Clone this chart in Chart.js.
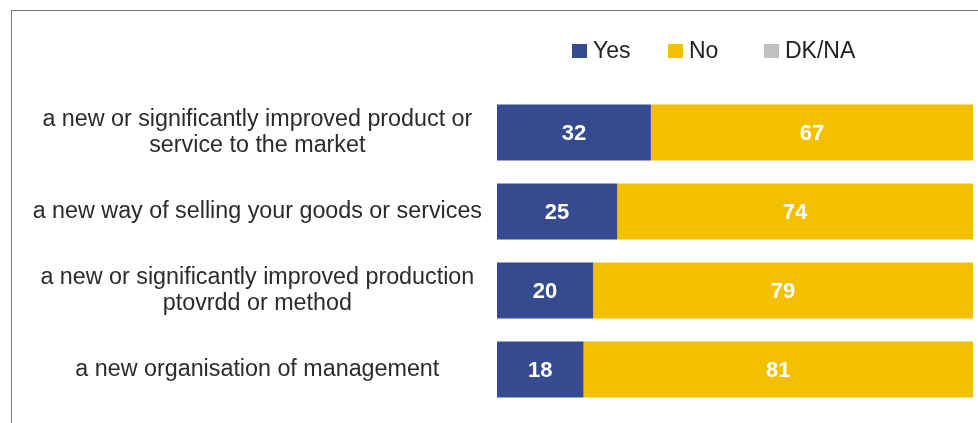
<!DOCTYPE html>
<html>
<head>
<meta charset="utf-8">
<script src="https://cdn.jsdelivr.net/npm/chart.js@4.4.1/dist/chart.umd.min.js"></script>
<style>
  html, body { margin: 0; padding: 0; background: #fff; }
  #wrap { position: relative; width: 978px; height: 423px; overflow: hidden; }
  /* grey frame line along the top and left edge */
  #frame { position: absolute; left: 11px; top: 10px; width: 1000px; height: 500px;
           border-top: 1px solid #7a7a7a; border-left: 1px solid #7a7a7a; }
  #chart { position: absolute; left: 0; top: 0; }
  #legend { position: absolute; left: 572px; top: 36px; margin: 0; padding: 0; list-style: none;
            display: flex; font: 23px "Liberation Sans", Arial, sans-serif; color: #222; line-height: 28px; }
  #legend li { width: 96px; display: flex; align-items: center; white-space: nowrap; }
  #legend .box { display: inline-block; width: 15px; height: 14px; margin: 2px 6px 0 0; }
</style>
</head>
<body>
<div id="wrap">
  <div id="frame"></div>
  <canvas id="chart" width="978" height="423"></canvas>
  <ul id="legend"></ul>
</div>
<script>
// Innovation types (y axis)
const categories = [
    ['a new or significantly improved product or', 'service to the market'],
    'a new way of selling your goods or services',
    ['a new or significantly improved production', 'ptovrdd or method'],
    'a new organisation of management'
];

// Shares in %
const yesValues = [32, 25, 20, 18];
const noValues = [67, 74, 79, 81];
const dkNaValues = [0, 0, 0, 0];

const FONT = '"Liberation Sans", Arial, sans-serif';

// white numbers in the middle of each segment
const valueLabels = {
    id: 'valueLabels',
    afterDatasetsDraw(chart) {
        const ctx = chart.ctx;
        ctx.save();
        ctx.font = 'bold 22px ' + FONT;
        ctx.fillStyle = '#ffffff';
        ctx.textAlign = 'center';
        ctx.textBaseline = 'middle';
        chart.data.datasets.forEach((ds, i) => {
            if (!ds.showValues) return;
            chart.getDatasetMeta(i).data.forEach((bar, j) => {
                const v = ds.data[j];
                if (!v) return;
                const c = bar.getCenterPoint();
                ctx.fillText(v, c.x, c.y + 1);
            });
        });
        ctx.restore();
    }
};

// legend built as html list so it can sit over the bars
const htmlLegend = {
    id: 'htmlLegend',
    afterUpdate(chart) {
        const list = document.getElementById('legend');
        list.innerHTML = '';
        const items = Chart.defaults.plugins.legend.labels.generateLabels(chart);
        items.forEach(item => {
            const li = document.createElement('li');
            const box = document.createElement('span');
            box.className = 'box';
            box.style.background = item.fillStyle;
            const txt = document.createElement('span');
            txt.textContent = item.text;
            li.append(box, txt);
            list.appendChild(li);
        });
    }
};

const ctx = document.getElementById('chart').getContext('2d');
const chart = new Chart(ctx, {
    type: 'bar',
    data: {
        labels: categories,
        datasets: [
            { label: 'Yes', data: yesValues, backgroundColor: '#364b8f', showValues: true },
            { label: 'No', data: noValues, backgroundColor: '#f3c000', showValues: true },
            { label: 'DK/NA', data: dkNaValues, backgroundColor: '#c0c0c0', showValues: false }
        ]
    },
    options: {
        indexAxis: 'y',
        responsive: false,
        animation: false,
        layout: {
            padding: { left: 0, right: 5, top: 93, bottom: 14 }
        },
        datasets: {
            bar: { barPercentage: 0.71, categoryPercentage: 1, borderWidth: 0 }
        },
        scales: {
            x: {
                stacked: true,
                min: 0,
                max: 99,
                display: false
            },
            y: {
                stacked: true,
                grid: { display: false, drawTicks: false },
                border: { display: false },
                ticks: {
                    color: '#2b2b2b',
                    padding: 15,
                    crossAlign: 'center',
                    font: { family: FONT, size: 23.3, lineHeight: '26px' }
                },
                afterFit(scale) {
                    scale.width = 497;
                    // labels sit inside their bands, no extra room needed
                    scale.paddingTop = 0;
                    scale.paddingBottom = 0;
                }
            }
        },
        plugins: {
            legend: { display: false },
            tooltip: { enabled: false }
        }
    },
    plugins: [valueLabels, htmlLegend]
});
</script>
</body>
</html>
